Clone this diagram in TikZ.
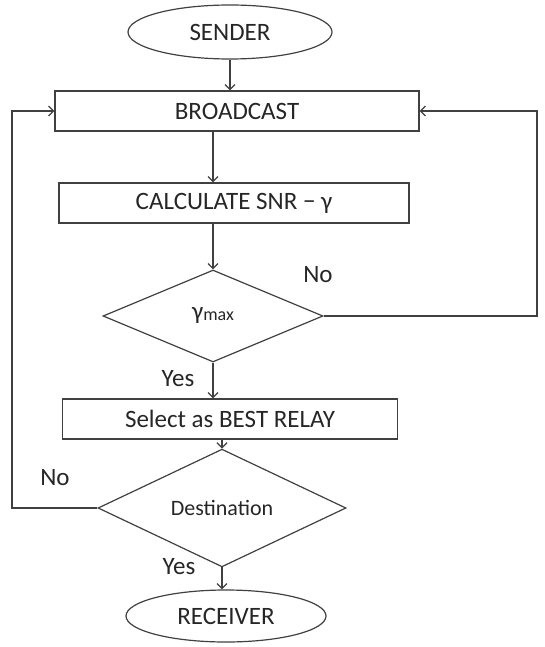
\documentclass[tikz,border=0pt]{standalone}
\usepackage{fontspec}
\setmainfont{Carlito}
\usetikzlibrary{arrows.meta,shapes.geometric}
\tikzset{box/.style={draw=black!75,line width=1.2pt,rectangle,minimum height=40pt,inner sep=2pt,font=\fontsize{25}{29}\selectfont,text=black!85},
ell/.style={box,ellipse,minimum height=54pt},dia/.style={box,diamond,inner sep=0pt},
lbl/.style={font=\fontsize{25}{29}\selectfont,text=black!85},arr/.style={->,>={Straight Barb[length=5pt,width=10pt]},draw=black!75,line width=1.2pt}}
\begin{document}
\begin{tikzpicture}[x=1pt,y=-1pt]
\useasboundingbox(0,0)rectangle(544,647);
\node[ell,minimum width=204pt](sender)at(230,32){SENDER};
\node[box,minimum width=364pt](bcast)at(237,111){BROADCAST};
\node[box,minimum width=350pt](calc)at(234,203){CALCULATE SNR − γ};
\node[dia,minimum width=220pt,minimum height=92pt](gmax)at(213,316){γ\raisebox{-1pt}{\fontsize{18}{21}\selectfont max}};
\node[box,minimum width=335pt](relay)at(230,419){Select as BEST RELAY};
\node[dia,minimum width=248pt,minimum height=90pt](dest)at(222,508){\fontsize{22}{26}\selectfont Destination};
\node[ell,minimum width=200pt,minimum height=52pt](recv)at(226,616){RECEIVER};
\coordinate(rt)at(537,200);\coordinate(lt)at(12,300);
\draw[arr](sender.south)--(sender.south|-bcast.north);\draw[arr](bcast.south-|gmax.north)--(calc.north-|gmax.north);
\draw[arr](calc.south-|gmax.north)--(gmax.north);\draw[arr](gmax.south)--(gmax.south|-relay.north);
\draw[arr](relay.south-|dest.north)--(dest.north);\draw[arr](dest.south)--(dest.south|-recv.north);
\draw[arr](gmax.east)-|(rt)|-(bcast.east);\draw[arr](dest.west)-|(lt)|-(bcast.west);
\node[lbl](no1)at(318,275){No};\node[lbl](yes1)at(178,379){Yes};\node[lbl](no2)at(55,478){No};\node[lbl](yes2)at(179,567){Yes};
\end{tikzpicture}
\end{document}
